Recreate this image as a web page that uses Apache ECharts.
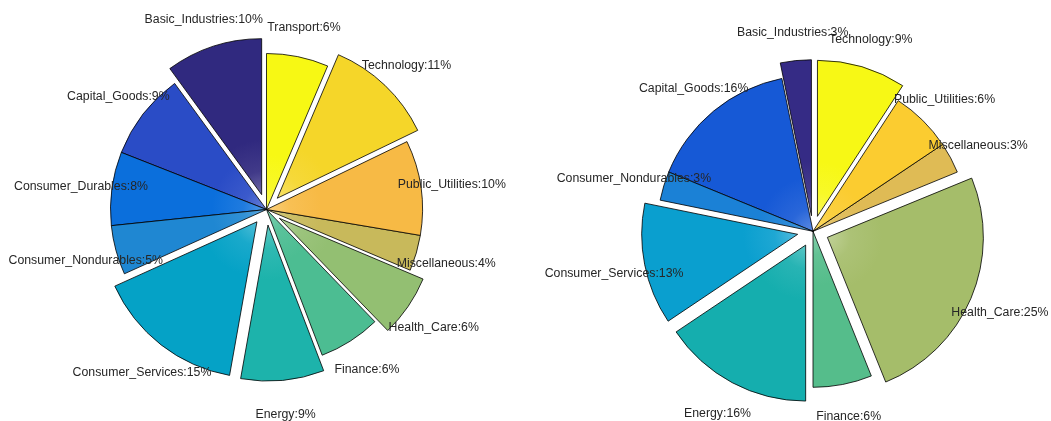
<!DOCTYPE html>
<html>
<head>
<meta charset="utf-8">
<script src="https://cdn.jsdelivr.net/npm/echarts@6/dist/echarts.min.js"></script>
<style>
  html, body { margin: 0; padding: 0; background: #fff; }
  #chart { width: 1051px; height: 421px; }
</style>
</head>
<body>
<div id="chart"></div>
<script>
// left pie (12 sectors), counter-clockwise from 12 o'clock
const leftNames = ['Basic_Industries', 'Capital_Goods', 'Consumer_Durables', 'Consumer_Nondurables',
  'Consumer_Services', 'Energy', 'Finance', 'Health_Care', 'Miscellaneous', 'Public_Utilities',
  'Technology', 'Transport'];
const leftValues = [10.0, 9.0, 7.6, 5.1, 15.4, 8.6, 6.4, 6.4, 3.7, 9.8, 11.4, 6.4];
const leftColors = ['#30297f', '#2a4cc6', '#0b6fdc', '#1f87d2', '#05a2c6', '#1db3ab',
  '#4cbd92', '#93bf72', '#c8b95b', '#f7ba45', '#f5d629', '#f7f814'];

// right pie (10 sectors)
const rightNames = ['Basic_Industries', 'Capital_Goods', 'Consumer_Nondurables', 'Consumer_Services',
  'Energy', 'Finance', 'Health_Care', 'Miscellaneous', 'Public_Utilities', 'Technology'];
const rightValues = [3.2, 15.6, 3.0, 12.6, 15.6, 6.1, 25.1, 3.2, 6.4, 9.2];
const rightColors = ['#352b85', '#1659d6', '#1b81d6', '#0a9fcf', '#15aeae', '#55bd8b',
  '#a5bd6a', '#dfbb55', '#fbcc30', '#f7f815'];

// sectors pulled out of the pie
const exploded = ['Basic_Industries', 'Consumer_Services', 'Energy', 'Health_Care', 'Technology'];

const R = 156;

const lighten = (hex, k) => {
  const n = parseInt(hex.slice(1), 16);
  const c = [(n >> 16) & 255, (n >> 8) & 255, n & 255].map(v => Math.round(v + (255 - v) * k));
  return `rgb(${c.join(',')})`;
};

// slightly lighter towards the apex, like the original's dense fan of seams
const fill = (c, center) => new echarts.graphic.RadialGradient(center[0], center[1], R, [
  { offset: 0, color: lighten(c, 0.3) },
  { offset: 0.15, color: lighten(c, 0.08) },
  { offset: 0.35, color: c },
  { offset: 1, color: c }
], true);

function pieSeries(names, values, colors, center) {
  const common = {
    type: 'pie', center, clockwise: false, startAngle: 90,
    selectedMode: 'multiple', selectedOffset: R * 0.1,
    silent: true, animation: false, emphasis: { disabled: true },
    avoidLabelOverlap: false, labelLine: { show: false },
    labelLayout: { hideOverlap: false }
  };
  return [
    {
      ...common, radius: R, z: 2,
      label: { show: false },
      itemStyle: { borderColor: '#000', borderWidth: 0.8 },
      data: names.map((n, i) => ({
        name: n, value: values[i], selected: exploded.includes(n),
        itemStyle: { color: fill(colors[i], center) }
      }))
    },
    {
      // invisible twin pie: its 'inside' labels sit at 1.2 R, as in the original
      ...common, radius: 2.4 * R - 6, z: 3,
      itemStyle: { color: 'rgba(0,0,0,0)', borderWidth: 0 },
      label: {
        show: true, position: 'inside', align: 'center', verticalAlign: 'middle', offset: [0, 2],
        fontFamily: 'Liberation Sans, Arial, sans-serif', fontSize: 12.3, color: '#262626',
        formatter: p => p.name + ':' + Math.round(p.percent) + '%'
      },
      select: { label: { offset: [0, 3] } },
      data: names.map((n, i) => ({ name: n, value: values[i], selected: exploded.includes(n) }))
    }
  ];
}

const chart = echarts.init(document.getElementById('chart'));
chart.setOption({
  backgroundColor: '#fff',
  series: [
    ...pieSeries(leftNames, leftValues, leftColors, [266.5, 209.5]),
    ...pieSeries(rightNames, rightValues, rightColors, [813, 231.3])
  ]
});
</script>
</body>
</html>
